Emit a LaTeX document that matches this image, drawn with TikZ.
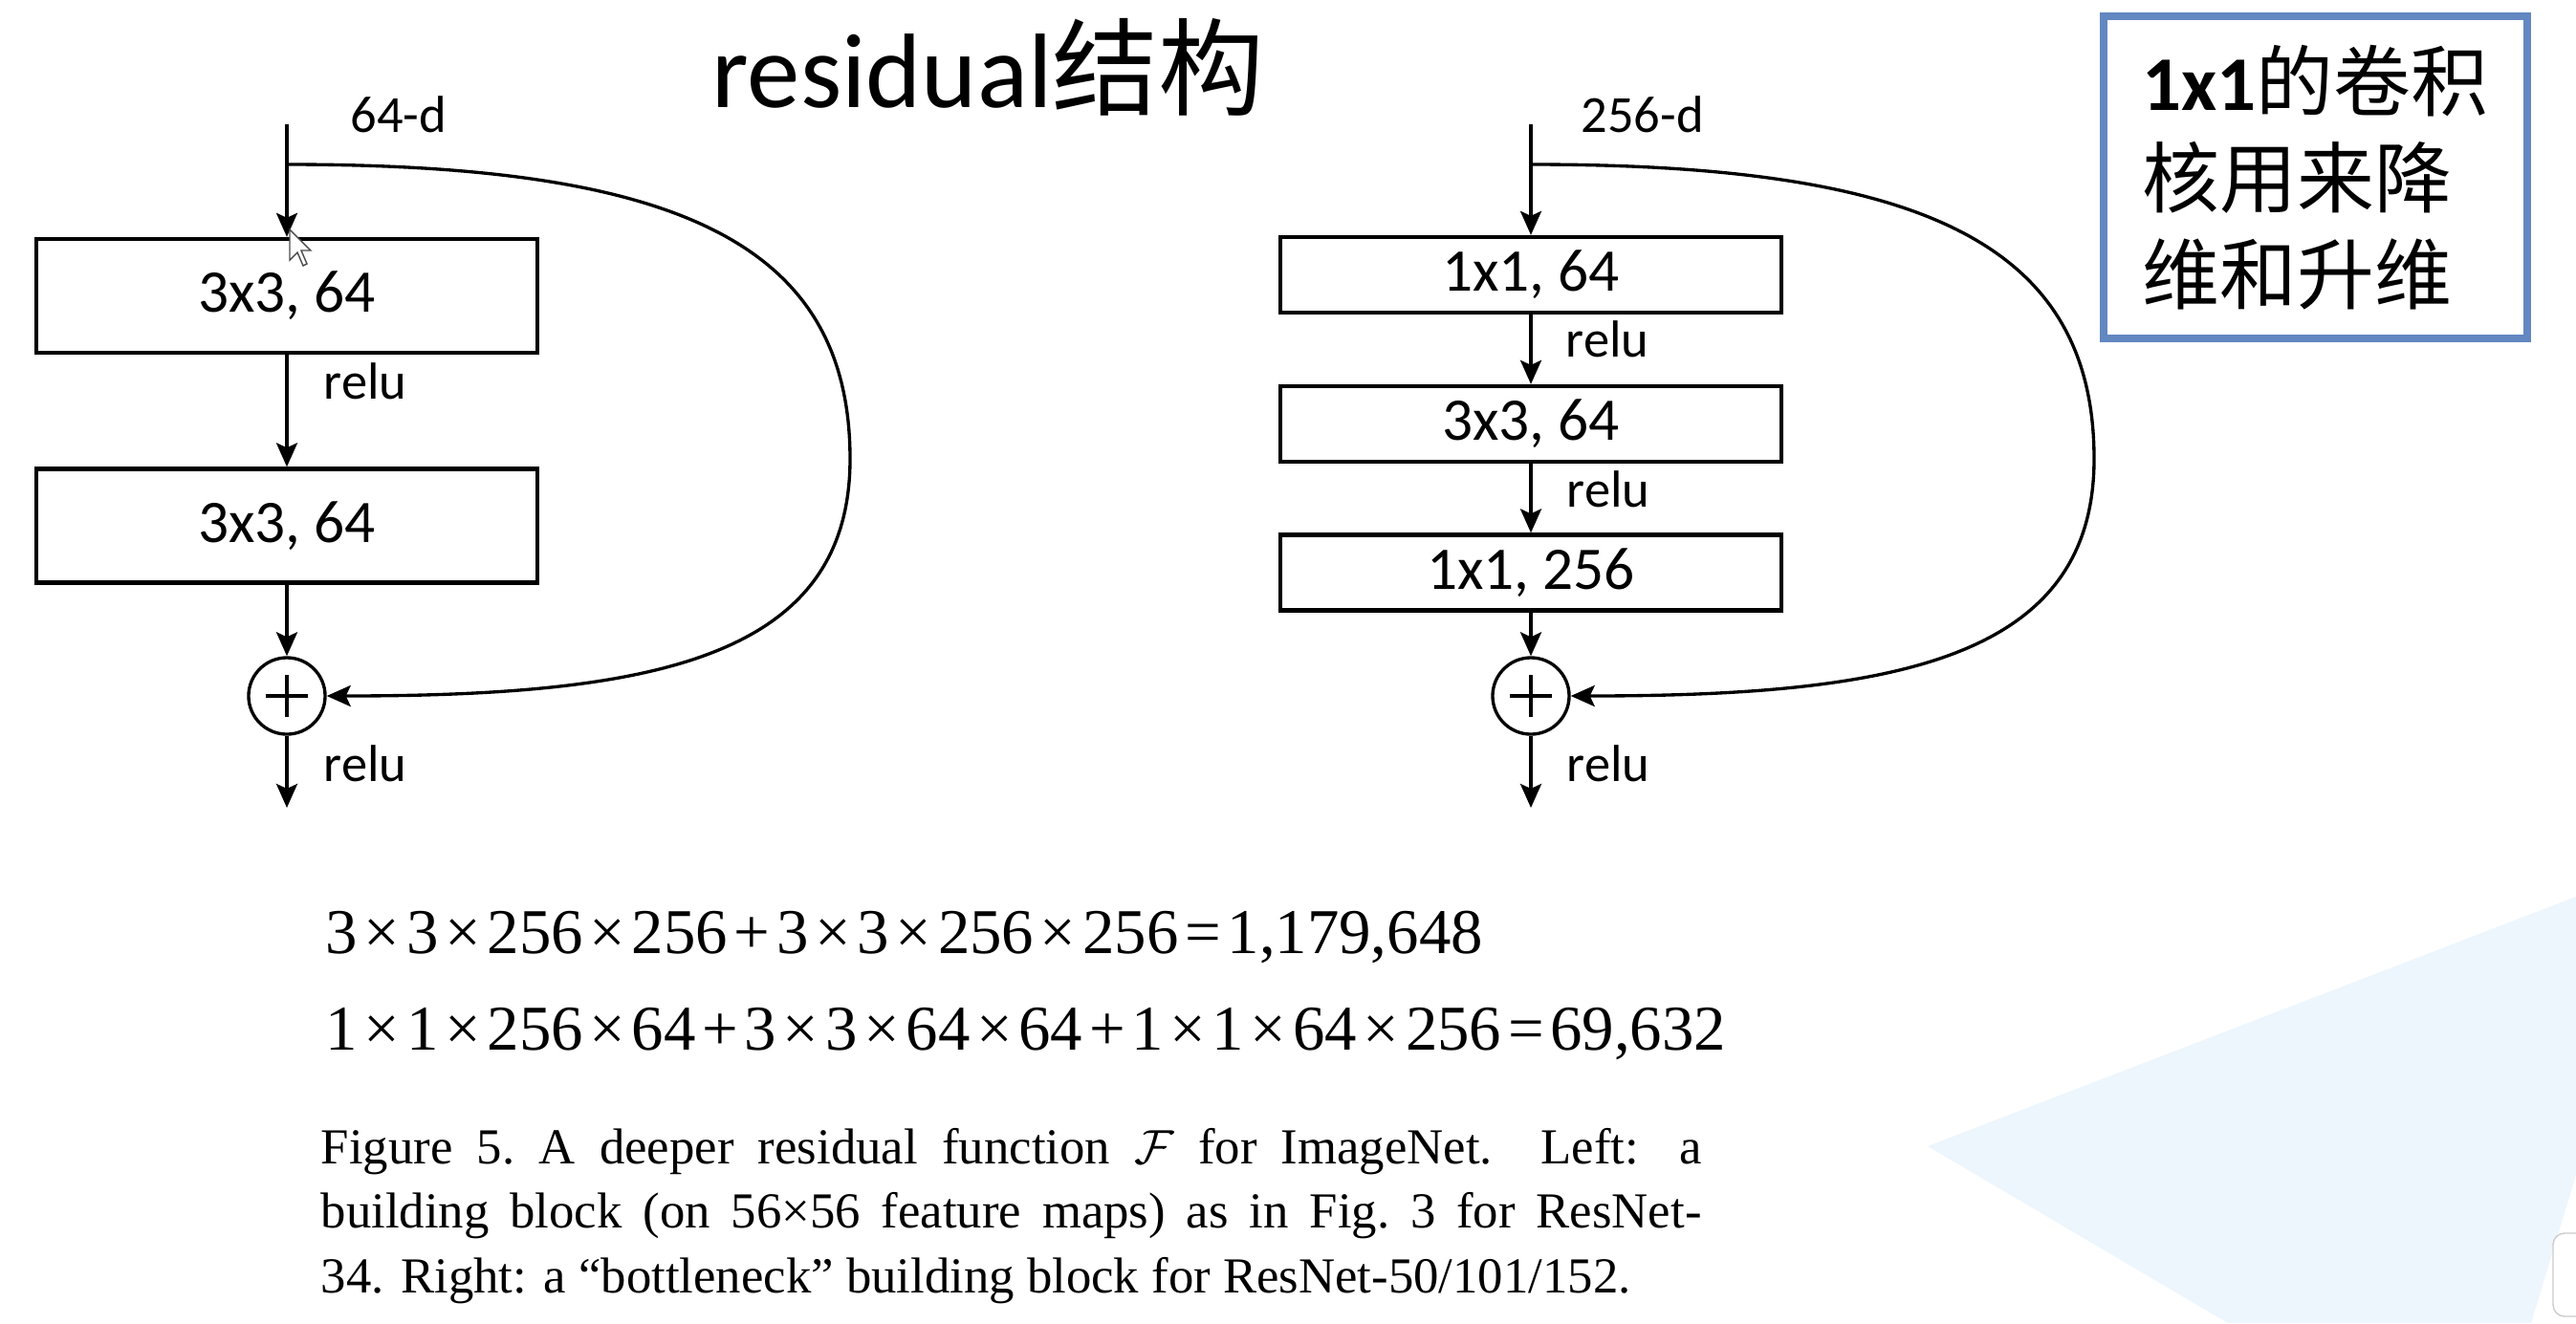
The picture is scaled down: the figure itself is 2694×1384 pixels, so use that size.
\documentclass[tikz,border=0pt]{standalone}
\usepackage{fontspec}
\usepackage{amsmath}
\usepackage{tikz}
\usetikzlibrary{arrows.meta}
\setmainfont{Carlito}
\newfontfamily\cjk{Noto Sans CJK SC}
\newfontfamily\timesfont{Liberation Serif}
\definecolor{boxblue}{RGB}{98,135,193}
\definecolor{bgblue}{RGB}{237,246,253}
\newcommand{\op}[1]{\kern.1em#1\kern.1em}

\begin{document}
\begin{tikzpicture}[x=0.01cm,y=-0.01cm,
	arr/.style={line width=0.95pt,-{Stealth[length=0.25cm,width=0.22cm,inset=0.05cm]}},
	layer/.style={draw=black,line width=1.2pt,minimum width=5.24cm,inner sep=0pt,font=\fontsize{18}{20}\selectfont},
	tall/.style={layer,minimum height=1.19cm},
	flat/.style={layer,minimum height=0.79cm},
	lbl/.style={anchor=base west,inner sep=0pt,font=\fontsize{15.5}{18}\selectfont},
	addop/.style={shape=circle,draw=black,line width=0.95pt,minimum size=0.8cm,inner sep=0pt,
		path picture={\draw[line width=0.95pt] (path picture bounding box.center) +(-0.22cm,0) -- +(0.22cm,0)
			(path picture bounding box.center) +(0,-0.22cm) -- +(0,0.22cm);}},
	fml/.style={anchor=base west,inner sep=0pt,font=\timesfont\fontsize{19}{22}\selectfont}]
	\fill[white] (0,0) rectangle (2694,1384);
	\useasboundingbox (0,0) rectangle (2694,1384);
	\fill[bgblue] (2016,1199) -- (2694,938) -- (2694,1229) -- (2647,1384) -- (2330,1384) -- cycle;
	\draw[black!20,fill=white,rounded corners=0.12cm] (2694,1290) -- (2670,1290) -- (2670,1377) -- (2694,1377);

	\node[anchor=base west,inner sep=0pt,font=\fontsize{31.5}{36}\selectfont] (title) at (744,112) {residual{\cjk 结构}};

	\node[draw=boxblue,line width=0.08cm,minimum width=4.43cm,minimum height=3.37cm,inner sep=0pt,
		align=left,font=\cjk\fontsize{23}{28.7}\selectfont] (note) at (2421.5,185.5)
		{{\rmfamily\bfseries 1x1}的卷积\\核用来降\\维和升维};

	\coordinate (inL) at (300,130);
	\coordinate (brL) at (300,172);
	\node[tall] (c1) at (300,309.5) {3x3, 64};
	\node[tall] (c2) at (300,550) {3x3, 64};
	\node[addop] (addL) at (300,728) {};
	\coordinate (outL) at (300,845);
	\node[lbl] (dL) at (366,138) {64-d};
	\node[lbl] (r1) at (338,417) {relu};
	\node[lbl] (r2) at (338,817) {relu};

	\draw[arr] (inL) -- (c1);
	\draw[arr] (c1) -- (c2);
	\draw[arr] (c2) -- (addL);
	\draw[arr] (addL) -- (outL);
	\draw[arr] (brL) .. controls (700,172) and (889,250) .. (889,480) .. controls (889,690) and (680,728) .. (addL.east);

	\coordinate (inR) at (1601,130);
	\coordinate (brR) at (1601,172);
	\node[flat] (bA) at (1601,287.5) {1x1, 64};
	\node[flat] (bB) at (1601,443.5) {3x3, 64};
	\node[flat] (bC) at (1601,599) {1x1, 256};
	\node[addop] (addR) at (1601,728) {};
	\coordinate (outR) at (1601,845);
	\node[lbl] (dR) at (1653,138) {256-d};
	\node[lbl] (r3) at (1637,373) {relu};
	\node[lbl] (r4) at (1638,530) {relu};
	\node[lbl] (r5) at (1638,817) {relu};

	\draw[arr] (inR) -- (bA);
	\draw[arr] (bA) -- (bB);
	\draw[arr] (bB) -- (bC);
	\draw[arr] (bC) -- (addR);
	\draw[arr] (addR) -- (outR);
	\draw[arr] (brR) .. controls (2001,172) and (2190,250) .. (2190,480) .. controls (2190,690) and (1981,728) .. (addR.east);

	\draw[black!70,fill=white,line width=0.4pt,shift={(303,240)}] (0,0) -- (0,32) -- (8,24) -- (14,38) -- (18,36) -- (12,22) -- (22,22) -- cycle;

	\node[fml] (eqA) at (340,997) {3\op{×}3\op{×}256\op{×}256\op{+}3\op{×}3\op{×}256\op{×}256\op{=}1,179,648};
	\node[fml] (eqB) at (340,1098) {1\op{×}1\op{×}256\op{×}64\op{+}3\op{×}3\op{×}64\op{×}64\op{+}1\op{×}1\op{×}64\op{×}256\op{=}69,632};

	\node[anchor=base west,inner sep=0pt,text width=14.43cm,align=justify,
		font=\timesfont\fontsize{15}{19.3}\selectfont] (cap) at (335,1217)
		{Figure 5.\ A deeper residual function $\mathcal{F}$ for ImageNet.\ \ Left: a\linebreak
		building block (on 56×56 feature maps) as in Fig.~3 for ResNet-\linebreak
		34. Right: a “bottleneck” building block for ResNet-50/101/152.};
\end{tikzpicture}
\end{document}
